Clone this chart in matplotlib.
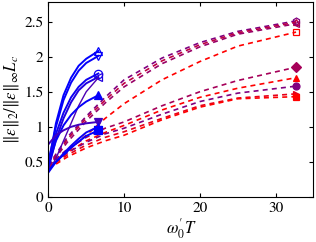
import matplotlib
matplotlib.use("Agg")
import matplotlib.pyplot as plt

plt.rcParams["font.family"] = "STIXGeneral"
plt.rcParams["mathtext.fontset"] = "stix"

BLUE = (0.0, 0.0, 1.0)
PURPLE = (0.5, 0.0, 0.5)
RED = (1.0, 0.0, 0.0)


def mix(a, b, t):
    return tuple(a[i] * (1 - t) + b[i] * t for i in range(3))


# short runs (solid): x = omega0' T
x_short = [0, 1, 2, 3, 4, 5, 6.6]
short_vals = [
    [0.45, 1.05, 1.45, 1.70, 1.87, 1.97, 2.08],
    [0.50, 1.00, 1.38, 1.63, 1.80, 1.91, 2.01],
    [0.45, 0.90, 1.20, 1.42, 1.57, 1.67, 1.76],
    [0.40, 0.82, 1.12, 1.35, 1.52, 1.62, 1.71],
    [0.35, 0.55, 0.80, 1.05, 1.30, 1.50, 1.70],
    [0.45, 0.80, 1.02, 1.17, 1.28, 1.36, 1.45],
    [0.75, 0.88, 0.95, 1.00, 1.03, 1.05, 1.07],
    [0.35, 0.50, 0.62, 0.73, 0.83, 0.92, 1.00],
    [0.38, 0.50, 0.60, 0.70, 0.79, 0.87, 0.95],
]
short_mix = [0.0, 0.05, 0.1, 0.25, 0.6, 0.05, 0.5, 0.1, 0.0]
short_mark = ["^", "v", "o", "<", None, "^", "v", "*", "s"]
short_fill = [False, False, False, False, False, True, True, True, True]
short_lw = [1.4, 1.4, 1.4, 1.4, 1.0, 1.4, 1.4, 1.4, 1.4]

# long runs (dashed)
x_long = [0, 2.5, 5, 7.5, 10, 15, 20, 25, 32.7]
long_vals = [
    [0.45, 0.85, 1.15, 1.42, 1.67, 1.98, 2.20, 2.36, 2.51],
    [0.43, 0.82, 1.12, 1.38, 1.62, 1.94, 2.17, 2.34, 2.49],
    [0.42, 0.78, 1.08, 1.34, 1.57, 1.90, 2.14, 2.32, 2.47],
    [0.40, 0.65, 0.88, 1.12, 1.33, 1.67, 1.93, 2.15, 2.35],
    [0.45, 0.68, 0.85, 0.98, 1.07, 1.30, 1.50, 1.66, 1.85],
    [0.42, 0.63, 0.80, 0.92, 1.02, 1.24, 1.42, 1.55, 1.70],
    [0.45, 0.63, 0.78, 0.90, 0.98, 1.18, 1.36, 1.48, 1.58],
    [0.42, 0.60, 0.74, 0.85, 0.93, 1.12, 1.30, 1.41, 1.47],
    [0.40, 0.57, 0.70, 0.80, 0.88, 1.10, 1.28, 1.40, 1.43],
]
long_mix = [0.0, 0.5, 0.2, 1.0, 0.3, 1.0, 0.0, 0.8, 1.0]
long_mark = ["h", "^", "<", "s", "D", "^", "o", ">", "s"]
long_fill = [False, False, False, False, True, True, True, True, True]

fig = plt.figure(figsize=(3.16, 2.42), dpi=100)
ax = fig.add_axes([0.153, 0.186, 0.839, 0.806])

for i, ys in enumerate(long_vals):
    c = mix(PURPLE, RED, long_mix[i])
    ax.plot(x_long, ys, "--", color=c, linewidth=1.2, dashes=(3, 2.5))
    ax.plot(x_long[-1], ys[-1], long_mark[i], color=c, markersize=5,
            markerfacecolor=c if long_fill[i] else "none", markeredgewidth=0.9)

for i, ys in enumerate(short_vals):
    c = mix(BLUE, PURPLE, short_mix[i])
    ax.plot(x_short, ys, "-", color=c, linewidth=short_lw[i])
    if short_mark[i]:
        ax.plot(x_short[-1], ys[-1], short_mark[i], color=c, markersize=6,
                markerfacecolor=c if short_fill[i] else "none", markeredgewidth=0.9)

ax.set_xlim(0, 35)
ax.set_ylim(0, 2.78)
ax.set_xticks([0, 10, 20, 30])
ax.set_yticks([0, 0.5, 1, 1.5, 2, 2.5])
ax.set_yticklabels(["0", "0.5", "1", "1.5", "2", "2.5"])
ax.tick_params(direction="in", top=True, right=True, labelsize=11, length=3)
for s in ax.spines.values():
    s.set_linewidth(0.8)
ax.set_xlabel("$\\omega^{\u2032}_0 T$", fontsize=12, labelpad=1)
ax.set_ylabel(r"$\|\epsilon\|_2/\|\epsilon\|_\infty L_c$", fontsize=12, labelpad=2)

fig.savefig("out.png", dpi=100)
